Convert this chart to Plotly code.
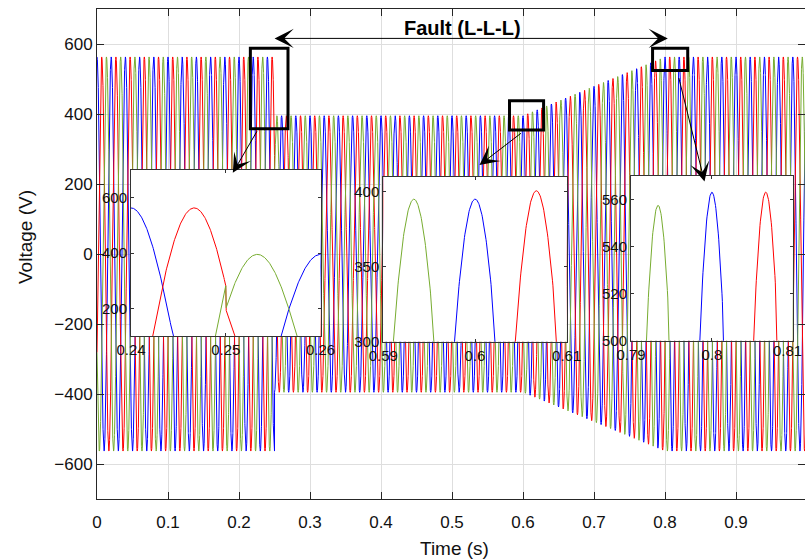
import numpy as np
import plotly.graph_objects as go

# Three-phase grid voltage during a symmetrical (L-L-L) fault
f_grid = 50.0                      # Hz
peak_normal = 563.0                # V, healthy peak phase voltage
peak_fault = 395.0                 # V, peak during the fault
t_fault = 0.25                     # s, fault inception
t_recover_start = 0.60             # s, voltage starts recovering
t_recover_end = 0.80               # s, voltage back to nominal
phase_names = ["Va", "Vb", "Vc"]
phase_shift_deg = [0.0, -120.0, 120.0]
phase_colors = ["#0000ff", "#ff0000", "#77ac30"]

x_ticks = [0, 0.1, 0.2, 0.3, 0.4, 0.5, 0.6, 0.7, 0.8, 0.9, 1.0]
x_ticklabels = ["0", "0.1", "0.2", "0.3", "0.4", "0.5", "0.6", "0.7", "0.8", "0.9", "1"]
y_ticks = [-600, -400, -200, 0, 200, 400, 600]

zoom_windows = [(0.24, 0.26), (0.59, 0.61), (0.79, 0.81)]
zoom_yranges = [(100, 700), (300, 410), (500, 570)]
zoom_xticks = [[0.24, 0.25, 0.26], [0.59, 0.60, 0.61], [0.79, 0.80, 0.81]]
zoom_xticklabels = [["0.24", "0.25", "0.26"], ["0.59", "0.6", "0.61"], ["0.79", "0.8", "0.81"]]
zoom_yticks = [[200, 400, 600], [300, 350, 400], [500, 520, 540, 560]]

# ---- simulated signals ----
t = np.round(np.linspace(0.0, 1.0, 20001), 6)
amp = np.full_like(t, peak_normal)
amp[t > t_fault] = peak_fault
ramp = (t > t_recover_start) & (t <= t_recover_end)
amp[ramp] = peak_fault + (peak_normal - peak_fault) * (t[ramp] - t_recover_start) / (t_recover_end - t_recover_start)
amp[t > t_recover_end] = peak_normal
signals = [amp * np.cos(2 * np.pi * f_grid * t + np.deg2rad(s)) for s in phase_shift_deg]

FONT = "Liberation Sans, Arial, Helvetica, sans-serif"
AX_COLOR = "#262626"
GRID = "#dedede"

fig = go.Figure()
for name, col, v in zip(phase_names, phase_colors, signals):
    fig.add_trace(go.Scatter(x=t, y=v, mode="lines", name=name,
                             line=dict(color=col, width=1), showlegend=False,
                             hoverinfo="skip"))

# ---- zoomed views ----
W, H = 805, 559
ml, mr, mt, mb = 97, 0, 9, 60
pw, ph = W - ml - mr, H - mt - mb

def px_x(p):
    return (p - ml) / pw

def px_y(p):
    return (H - mb - p) / ph

inset_boxes = [(131, 320.5, 170, 336), (383.3, 566.7, 176.7, 341.7), (631, 792.7, 175.7, 340.7)]

for k, ((x0, x1), (y0, y1), box) in enumerate(zip(zoom_windows, zoom_yranges, inset_boxes)):
    idx = k + 2
    sel = (t >= x0 - 0.001) & (t <= x1 + 0.001)
    for name, col, v in zip(phase_names, phase_colors, signals):
        fig.add_trace(go.Scatter(x=t[sel], y=v[sel], mode="lines", name=name,
                                 line=dict(color=col, width=1), showlegend=False,
                                 hoverinfo="skip", xaxis=f"x{idx}", yaxis=f"y{idx}"))
    bx0, bx1, by0, by1 = box
    common = dict(showgrid=False, zeroline=False, showline=True, mirror="ticks",
                  linecolor="#333333", linewidth=1, ticks="inside", ticklen=3,
                  tickcolor="#333333", automargin=False,
                  tickfont=dict(family=FONT, size=15, color="#111111"))
    fig.update_layout(**{
        f"xaxis{idx}": dict(domain=[px_x(bx0), px_x(bx1)], range=[x0, x1], anchor=f"y{idx}",
                            tickvals=zoom_xticks[k], ticktext=zoom_xticklabels[k], **common),
        f"yaxis{idx}": dict(domain=[px_y(by1), px_y(by0)], range=[y0, y1], anchor=f"x{idx}",
                            tickvals=zoom_yticks[k], **common),
    })

# the last label of the right-hand zoom sits on the page edge; keep it inside the page
fig.add_annotation(text=zoom_xticklabels[2][-1], xref="paper", yref="paper",
                   x=1.0, y=px_y(350), xanchor="right", yanchor="middle", xshift=-1,
                   showarrow=False, font=dict(family=FONT, size=15, color="#111111"))

fig.update_layout(
    width=W, height=H,
    margin=dict(l=ml, r=mr, t=mt, b=mb, autoexpand=False),
    paper_bgcolor="white", plot_bgcolor="white",
    font=dict(family=FONT, color=AX_COLOR),
    xaxis=dict(range=[0, pw / 710.0], tickvals=x_ticks, ticktext=x_ticklabels,
               showgrid=True, gridcolor=GRID, gridwidth=1, zeroline=False,
               showline=True, linecolor=AX_COLOR, linewidth=1, mirror="ticks",
               ticks="inside", ticklen=7, tickcolor=AX_COLOR, automargin=False,
               ticklabelstandoff=8,
               tickfont=dict(family=FONT, size=17, color="#111111")),
    yaxis=dict(range=[-700, 700], tickvals=y_ticks,
               showgrid=True, gridcolor=GRID, gridwidth=1, zeroline=False,
               showline=True, linecolor=AX_COLOR, linewidth=1, mirror="ticks",
               ticks="inside", ticklen=7, tickcolor=AX_COLOR, automargin=False,
               tickfont=dict(family=FONT, size=17, color="#111111")),
)

# axis titles
fig.add_annotation(text="Time (s)", xref="paper", yref="paper",
                   x=px_x(454), y=px_y(548), xanchor="center", yanchor="middle",
                   showarrow=False, font=dict(family=FONT, size=19, color="#111111"))
fig.add_annotation(text="Voltage (V)", xref="paper", yref="paper",
                   x=px_x(25), y=px_y(237), xanchor="center", yanchor="middle",
                   showarrow=False, textangle=-90,
                   font=dict(family=FONT, size=19, color="#111111"))

# highlight rectangles on the main trace
zoom_marks = [(0.216, 0.269, 358, 588), (0.581, 0.629, 354, 438), (0.7825, 0.832, 524, 588)]
for (a, b, c, d) in zoom_marks:
    fig.add_shape(type="rect", xref="x", yref="y", x0=a, x1=b, y0=c, y1=d,
                  line=dict(color="black", width=3), layer="above")

# fault duration arrow and label
fig.add_annotation(x=0.804, y=616, ax=0.248, ay=616, xref="x", yref="y", axref="x", ayref="y",
                   text="", showarrow=True, arrowhead=3, startarrowhead=3,
                   arrowside="end+start", arrowsize=3.2, startarrowsize=3.2, arrowwidth=1,
                   arrowcolor="black")
fig.add_annotation(x=0.515, y=646, xref="x", yref="y", text="<b>Fault (L-L-L)</b>",
                   showarrow=False, font=dict(family=FONT, size=20, color="black"))

# arrows from the highlighted regions to their zoomed views
pointers = [(0.1913, 232, 25, -43), (0.5387, 254, 43, -33), (0.8556, 207, -26, -105)]
for (x, y, ax, ay) in pointers:
    fig.add_annotation(x=x, y=y, xref="x", yref="y", ax=ax, ay=ay, text="",
                       showarrow=True, arrowhead=3, arrowsize=3.2, arrowwidth=1,
                       arrowcolor="black")

fig.write_html("out.html")
